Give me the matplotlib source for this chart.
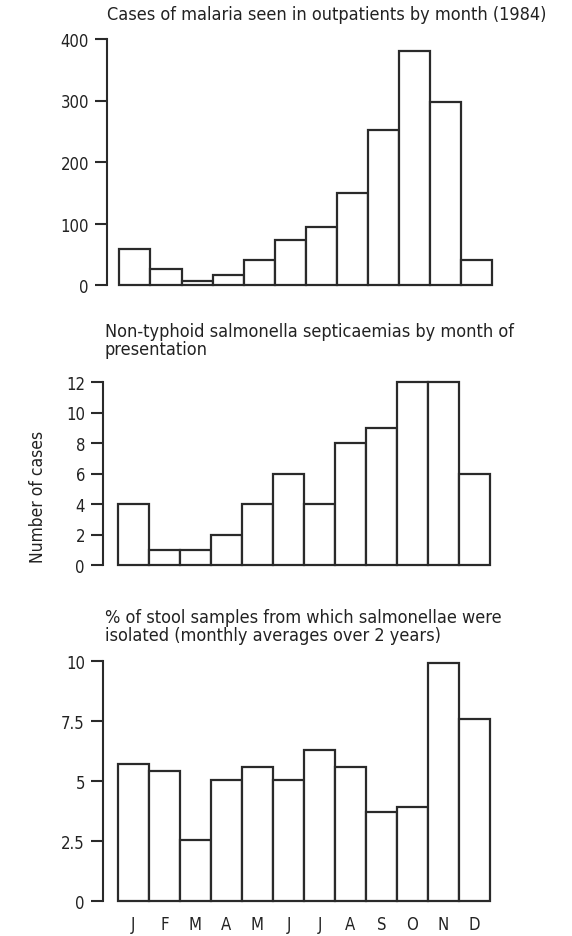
import numpy as np
import matplotlib.pyplot as plt

plt.rcParams['font.family'] = ['DejaVu Sans']
plt.rcParams['font.stretch'] = 'condensed'

# data
months = ['J', 'F', 'M', 'A', 'M', 'J', 'J', 'A', 'S', 'O', 'N', 'D']
malaria = [58, 26, 6, 16, 41, 73, 95, 150, 252, 380, 298, 41]
septicaemia = [4, 1, 1, 2, 4, 6, 4, 8, 9, 12, 12, 6]
stool_pct = [5.7, 5.4, 2.55, 5.05, 5.6, 5.05, 6.3, 5.6, 3.7, 3.9, 9.9, 7.6]

titles = ['Cases of malaria seen in outpatients by month (1984)',
          'Non-typhoid salmonella septicaemias by month of\npresentation',
          '% of stool samples from which salmonellae were\nisolated (monthly averages over 2 years)']
yticks = [[0, 100, 200, 300, 400],
          [0, 2, 4, 6, 8, 10, 12],
          [0, 2.5, 5, 7.5, 10]]
yticklabels = [['0', '100', '200', '300', '400'],
               ['0', '2', '4', '6', '8', '10', '12'],
               ['0', '2.5', '5', '7.5', '10']]

W, H = 572, 937
fig = plt.figure(figsize=(W / 100, H / 100), dpi=100)

# axes boxes in pixels: left, right, top (max tick), bottom (zero)
boxes = [(107, 492, 40, 286), (103, 490, 383, 566), (103, 490, 662, 902)]
series = [malaria, septicaemia, stool_pct]
x = np.arange(len(months))

for i, (l, r, t, b) in enumerate(boxes):
    ax = fig.add_axes([l / W, 1 - b / H, (r - l) / W, (b - t) / H])
    ax.bar(x, series[i], width=1.0, color='white', edgecolor='#2a2a2a',
           linewidth=1.6, clip_on=False)
    left_gap = 0.4 if i == 0 else 0.48
    ax.set_xlim(-0.5 - left_gap, 11.5)
    ax.set_ylim(0, yticks[i][-1])
    ax.set_yticks(yticks[i])
    ax.set_yticklabels(yticklabels[i])
    for s in ['top', 'right', 'bottom']:
        ax.spines[s].set_visible(False)
    ax.spines['left'].set_linewidth(1.5)
    ax.spines['left'].set_color('#2a2a2a')
    ax.tick_params(axis='y', length=9, width=1.5, pad=4, labelsize=12,
                   color='#2a2a2a', labelcolor='#222222')
    if i == 2:
        ax.set_xticks(x)
        ax.set_xticklabels(months)
        ax.tick_params(axis='x', length=0, pad=10, labelsize=12,
                       labelcolor='#222222')
    else:
        ax.set_xticks([])

# titles
fig.text(327 / W, 1 - 15 / H, titles[0], ha='center', va='center',
         fontsize=13, color='#222222')
fig.text(105 / W, 1 - 341 / H, titles[1], ha='left', va='center',
         fontsize=13, color='#222222', linespacing=0.95)
fig.text(105 / W, 1 - 627 / H, titles[2], ha='left', va='center',
         fontsize=13, color='#222222', linespacing=0.95)

fig.text(38 / W, 1 - 497 / H, 'Number of cases', rotation=90,
         ha='center', va='center', fontsize=12.5, color='#222222')

fig.savefig('out.png', dpi=100, facecolor='white')
